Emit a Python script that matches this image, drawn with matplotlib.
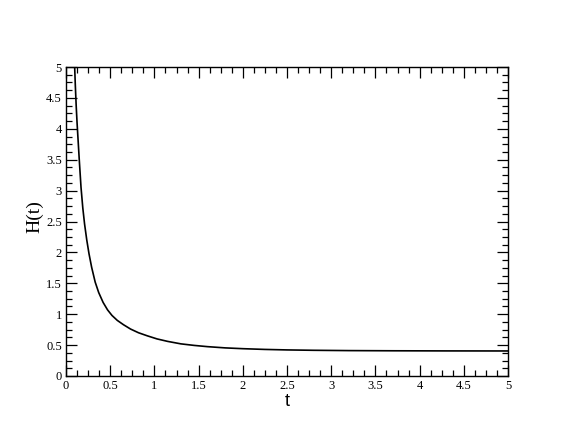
import numpy as np
import matplotlib
matplotlib.use("Agg")
import matplotlib.pyplot as plt
from matplotlib.ticker import MultipleLocator, FuncFormatter

# values
t_vals = [0.098, 0.105, 0.115, 0.125, 0.135, 0.150, 0.170, 0.190, 0.210, 0.235,
          0.260, 0.290, 0.330, 0.370, 0.420, 0.470, 0.520, 0.580, 0.650, 0.730,
          0.820, 0.920, 1.030, 1.150, 1.300, 1.450, 1.600, 1.800, 2.000, 2.250,
          2.500, 2.800, 3.200, 3.700, 4.300, 5.000]
h_vals = [5.00, 4.72, 4.38, 4.10, 3.86, 3.50, 3.05, 2.72, 2.46, 2.20,
          1.98, 1.76, 1.52, 1.35, 1.19, 1.07, 0.98, 0.90, 0.83, 0.76,
          0.70, 0.65, 0.60, 0.56, 0.52, 0.495, 0.475, 0.455, 0.442, 0.430,
          0.422, 0.416, 0.411, 0.408, 0.406, 0.405]

x_label = "t"
y_label = "H(t)"


def main():
	fig = plt.figure(figsize=(5.72, 4.42), dpi=100)
	ax = fig.add_axes([66/572, 1-376/442, (508-66)/572, (376-67)/442])

	ax.plot(t_vals, h_vals, color="black", lw=1.2)

	ax.set_xlim(0, 5)
	ax.set_ylim(0, 5)
	for a in (ax.xaxis, ax.yaxis):
		a.set_major_locator(MultipleLocator(0.5))
		a.set_minor_locator(MultipleLocator(0.125))
		a.set_major_formatter(FuncFormatter(lambda v, p: "%g" % v))
	ax.tick_params(which="both", direction="in", top=True, right=True,
		width=0.9, color="black")
	ax.tick_params(which="major", length=8, labelsize=9, pad=3)
	ax.tick_params(which="minor", length=4)
	for lab in ax.get_xticklabels() + ax.get_yticklabels():
		lab.set_family("Liberation Serif")
	for s in ax.spines.values():
		s.set_linewidth(1.0)

	ax.set_xlabel(x_label, family="Liberation Sans", fontsize=13, labelpad=0.5)
	ax.set_ylabel(y_label, family="Liberation Serif", fontsize=14)
	ax.yaxis.set_label_coords((43.5-66)/442, (376-216.5)/309)

	fig.savefig("out.png", dpi=100)


if __name__ == '__main__':
	main()
